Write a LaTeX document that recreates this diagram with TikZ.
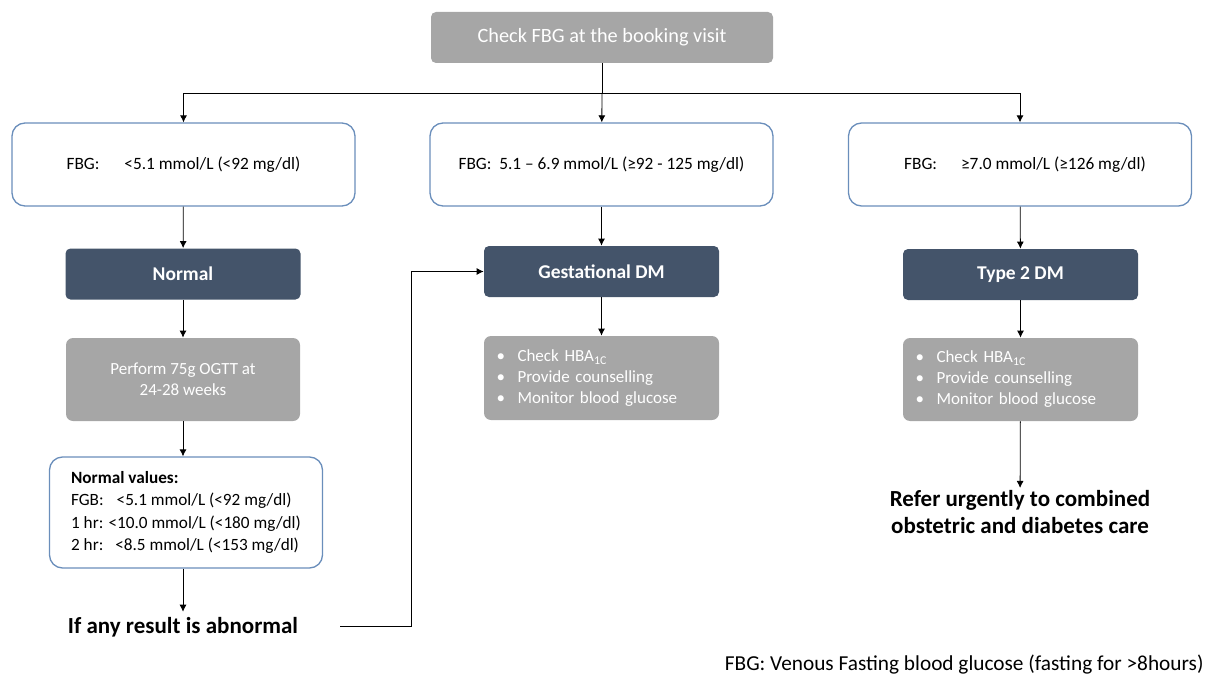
\documentclass[tikz,border=0pt]{standalone}
\usepackage{fontspec}
\setmainfont{Carlito}
\usetikzlibrary{arrows.meta,positioning}
\definecolor{boxgray}{HTML}{A6A6A6}
\definecolor{boxdark}{HTML}{44546A}
\definecolor{boxline}{HTML}{6A8EBB}
\newcommand{\bul}[1]{\makebox[21pt][l]{\textbullet}#1}
\newcommand{\hbaone}{HBA\textsubscript{1C}}

\begin{document}
\begin{tikzpicture}[x=1pt,y=-1pt,>={Latex[length=7pt,width=7pt]},line width=0.8pt,
	greybox/.style={fill=boxgray,text=white,rounded corners=7pt,inner sep=0pt,
		minimum width=234pt,minimum height=83pt,align=center,font=\fontsize{17}{21}\selectfont},
	darkbox/.style={fill=boxdark,text=white,rounded corners=5pt,inner sep=0pt,
		minimum width=235pt,minimum height=51pt,font=\fontsize{19.5}{22}\selectfont\bfseries},
	fbgbox/.style={draw=boxline,line width=1.3pt,fill=white,rounded corners=13pt,inner sep=0pt,
		minimum width=343pt,minimum height=83pt,font=\fontsize{17.3}{21}\selectfont},
	bigtext/.style={align=center,inner sep=2pt,font=\fontsize{23}{27}\selectfont\bfseries}]
	\useasboundingbox (0,0) rectangle (1210,677);
	% top of the chart
	\node[greybox,minimum width=342pt,minimum height=51pt,rounded corners=5pt,
		font=\fontsize{20.3}{23}\selectfont] (check) at (602,37.5) {Check FBG at the booking visit};
	\node[fbgbox] (fbgL) at (183.5,164.5) {FBG:\hspace{25pt}<5.1 mmol/L (<92 mg/dl)};
	\node[fbgbox] (fbgM) at (601.5,164.5) {FBG:\ \ 5.1 -- 6.9 mmol/L (≥92 - 125 mg/dl)};
	\node[fbgbox] (fbgR) at (1020,164.5) {\hspace{10pt}FBG:\hspace{24pt}≥7.0 mmol/L (≥126 mg/dl)};
	\coordinate (split) at (602,93);
	\draw (check) -- (split);
	\draw[->] (split) -| (fbgL);
	\draw[->] (split) -- (fbgM);
	\draw[->] (split) -| (fbgR);
	% left column
	\node[darkbox] (normal) at (183,274) {Normal};
	\node[greybox] (ogtt) at (183,379.5) {Perform 75g OGTT at\\24-28 weeks};
	\node[fbgbox,minimum width=273pt,minimum height=111pt,align=left,
		font=\fontsize{17.2}{22.4}\selectfont] (normval) at (186,512.5)
		{\textbf{Normal values:}\\FGB:\hspace{13pt}<5.1 mmol/L (<92 mg/dl)\\1 hr: <10.0 mmol/L (<180 mg/dl)\\2 hr:\hspace{12pt}<8.5 mmol/L (<153 mg/dl)};
	\node[bigtext,inner sep=5pt] (abn) at (183,627) {If any result is abnormal};
	\draw[->] (fbgL) -- (normal);
	\draw[->] (normal) -- (ogtt);
	\draw[->] (ogtt) -- (normval.north -| ogtt);
	\draw[->] (normval.south -| abn) -- (abn);
	% middle column
	\node[darkbox] (gdm) at (601.5,271.5) {Gestational DM};
	\node[greybox,minimum width=235pt,minimum height=84pt,text width=210pt,align=left]
		(gdmtodo) at (601.5,378) {\bul{Check \hbaone}\\\bul{Provide counselling}\\\bul{Monitor blood glucose}};
	\draw[->] (fbgM) -- (gdm);
	\draw[->] (gdm) -- (gdmtodo);
	\coordinate (loop) at (340,626);
	\draw[->] (loop) -- (411,626) |- (gdm);
	% right column
	\node[darkbox] (tdm) at (1020.5,274.5) {Type 2 DM};
	\node[greybox,minimum width=235pt,text width=210pt,align=left]
		(tdmtodo) at (1020.5,379.5) {\bul{Check \hbaone}\\\bul{Provide counselling}\\\bul{Monitor blood glucose}};
	\node[bigtext] (refer) at (1020,512) {Refer urgently to combined\\obstetric and diabetes care};
	\draw[->] (fbgR) -- (tdm);
	\draw[->] (tdm) -- (tdmtodo);
	\draw[->] (tdmtodo) -- (refer);
	% footnote
	\node[anchor=east,inner sep=0pt,font=\fontsize{21.3}{24}\selectfont] (note) at (1204,665)
		{FBG: Venous Fasting blood glucose (fasting for >8hours)};
\end{tikzpicture}
\end{document}
